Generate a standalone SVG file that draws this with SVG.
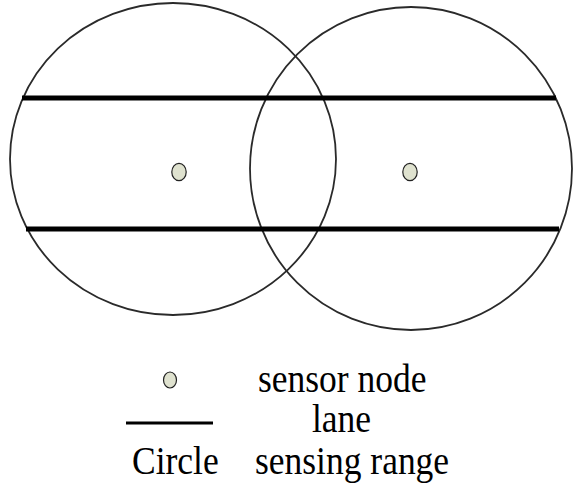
<svg xmlns="http://www.w3.org/2000/svg" width="573" height="488" viewBox="0 0 573 488">
<style>
.range{fill:none;stroke:#2a2a2a;stroke-width:1.8}
.lane{stroke:#000;stroke-width:5}
.node{fill:#dfe2cf;stroke:#222;stroke-width:1.2}
.lbl{font-family:"Liberation Serif","Times New Roman",serif;font-size:35.5px;fill:#000}
</style>
<rect width="573" height="488" fill="#fff"/>
<g id="ranges">
<ellipse id="range1" class="range" cx="173" cy="159" rx="163" ry="156"/>
<ellipse id="range2" class="range" cx="411" cy="168.5" rx="161" ry="161.5"/>
</g>
<g id="lanes">
<line id="lane1" class="lane" x1="22" y1="98" x2="556" y2="98"/>
<line id="lane2" class="lane" x1="26" y1="229" x2="559" y2="229"/>
</g>
<g id="node1"><ellipse class="node" cx="179" cy="172" rx="7.2" ry="8.7"/></g>
<g id="node2"><ellipse class="node" cx="410" cy="172" rx="7.2" ry="8.7"/></g>
<g id="legend">
<ellipse class="node" cx="170" cy="380" rx="6.5" ry="8"/>
<line x1="126" y1="423" x2="213" y2="423" stroke="#000" stroke-width="3"/>
<text class="lbl" transform="translate(258 392) scale(1 1.1)">sensor node</text>
<text class="lbl" transform="translate(312 432) scale(1 1.1)">lane</text>
<text class="lbl" transform="translate(132 474) scale(1 1.1)">Circle</text>
<text class="lbl" transform="translate(255 474) scale(1 1.1)">sensing range</text>
</g>
</svg>
